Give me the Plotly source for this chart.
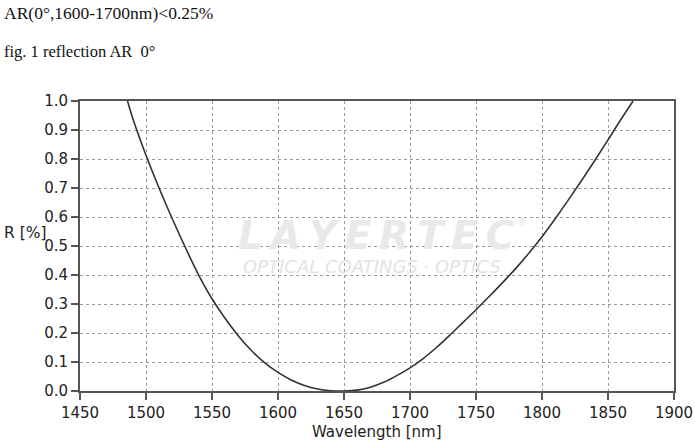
import plotly.graph_objects as go

# Data
wavelength_nm = [1486, 1490, 1500, 1510, 1520, 1530, 1540, 1550, 1560, 1570,
                 1580, 1590, 1600, 1610, 1620, 1630, 1640, 1650, 1660, 1670,
                 1680, 1690, 1700, 1710, 1720, 1730, 1740, 1750, 1760, 1770,
                 1780, 1790, 1800, 1810, 1820, 1830, 1840, 1850, 1860, 1869]
reflection_pct = [1.0, 0.94, 0.813, 0.699, 0.593, 0.493, 0.399, 0.318, 0.250, 0.190,
                  0.139, 0.097, 0.064, 0.038, 0.019, 0.007, 0.001, 0.0, 0.003, 0.013,
                  0.030, 0.053, 0.080, 0.112, 0.150, 0.192, 0.236, 0.280, 0.326, 0.373,
                  0.422, 0.475, 0.532, 0.594, 0.659, 0.726, 0.795, 0.866, 0.938, 1.0]
x_ticks = [1450, 1500, 1550, 1600, 1650, 1700, 1750, 1800, 1850, 1900]
y_ticks = [0.0, 0.1, 0.2, 0.3, 0.4, 0.5, 0.6, 0.7, 0.8, 0.9, 1.0]

W, H = 695, 442
L, R, T, B = 80, 21, 101, 51
PW, PH = W - L - R, H - T - B

def px(xp):
    return (xp - L) / PW

def py(yp):
    return (H - B - yp) / PH

fig = go.Figure()
fig.add_trace(go.Scatter(
    x=wavelength_nm, y=reflection_pct, mode="lines",
    line=dict(color="#333333", width=1.6, shape="spline", smoothing=1.0),
    hoverinfo="skip", showlegend=False,
))

tick_font = dict(family="DejaVu Sans", size=15, color="#222222")
fig.update_xaxes(
    range=[1450, 1900], tickvals=x_ticks, ticktext=[str(v) for v in x_ticks],
    showgrid=True, gridcolor="#9a9a9a", griddash="dot", gridwidth=1,
    showline=True, linecolor="#555555", linewidth=2, mirror=True,
    ticks="outside", ticklen=7, tickcolor="#555555", tickwidth=1.5,
    tickfont=tick_font, zeroline=False, automargin=False,
)
fig.update_yaxes(
    range=[0, 1.0], tickvals=y_ticks, ticktext=["%.1f" % v for v in y_ticks],
    showgrid=True, gridcolor="#9a9a9a", griddash="dot", gridwidth=1,
    showline=True, linecolor="#555555", linewidth=2, mirror=True,
    ticks="outside", ticklen=7, tickcolor="#555555", tickwidth=1.5,
    tickfont=tick_font, zeroline=False, automargin=False,
)

annotations = [
    dict(text="AR(0°,1600-1700nm)&lt;0.25%", x=px(2), y=py(13), xanchor="left", yanchor="middle",
         font=dict(family="Liberation Serif", size=17.5, color="#111111")),
    dict(text="fig. 1 reflection AR  0°", x=px(2), y=py(51), xanchor="left", yanchor="middle",
         font=dict(family="Liberation Serif", size=16.5, color="#111111")),
    dict(text="R [%]", x=px(2), y=py(233), xanchor="left", yanchor="middle",
         font=dict(family="DejaVu Sans", size=15.5, color="#222222")),
    dict(text="Wavelength [nm]", x=px(377), y=py(432), xanchor="center", yanchor="middle",
         font=dict(family="DejaVu Sans", size=15, color="#222222")),
    # watermark
    dict(text="<b><i>L\u2009A\u2009Y\u2009E\u2009R\u2009T\u2009E\u2009C</i></b>", x=px(376), y=py(235),
         xanchor="center", yanchor="middle",
         font=dict(family="DejaVu Sans", size=39, color="#e9e9e9")),
    dict(text="®", x=px(522), y=py(222), xanchor="center", yanchor="middle",
         font=dict(family="DejaVu Sans", size=10, color="#e4e4e4")),
    dict(text="<i>OPTICAL COATINGS · OPTICS</i>", x=px(372), y=py(266),
         xanchor="center", yanchor="middle",
         font=dict(family="DejaVu Sans", size=18, color="#e3e3e3")),
]
for a in annotations:
    a.update(xref="paper", yref="paper", showarrow=False)

fig.update_layout(
    width=W, height=H, margin=dict(l=L, r=R, t=T, b=B, pad=0, autoexpand=False),
    paper_bgcolor="white", plot_bgcolor="white",
    annotations=annotations, showlegend=False,
)

fig.write_html("out.html",
               config={"displayModeBar": False, "responsive": False},
               post_script="document.body.style.margin='0';document.body.style.padding='0';document.body.style.overflow='hidden';")
